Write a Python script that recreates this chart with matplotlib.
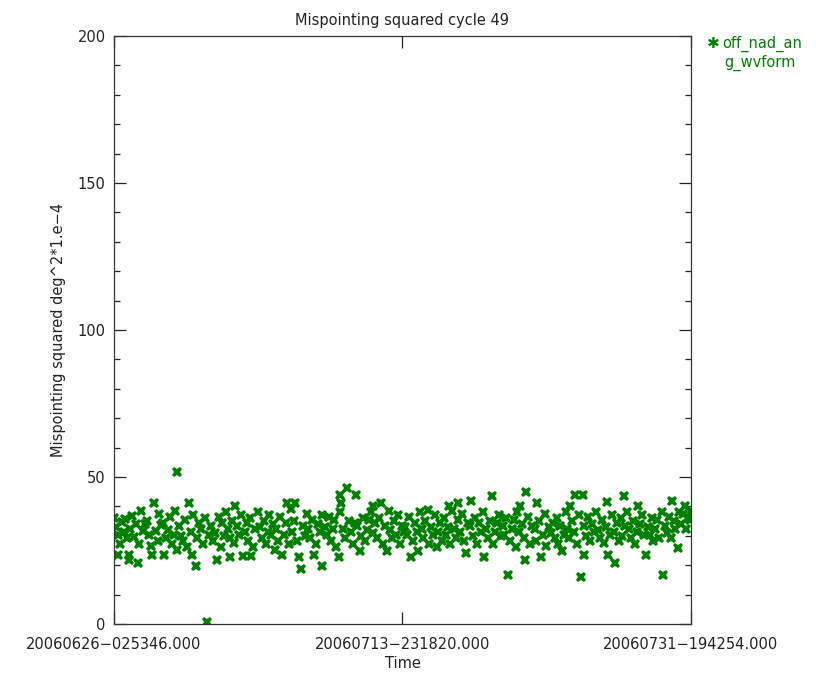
import matplotlib
matplotlib.use('Agg')
import matplotlib.pyplot as plt
from matplotlib.ticker import MultipleLocator

# time since first record (days) and mispointing squared (deg^2 * 1e-4)
t_days = [
    0.03, 0.12, 0.22, 0.25, 0.36, 0.48, 0.59, 0.71, 0.83, 0.93,
    0.95, 1.02, 1.14, 1.26, 1.38, 1.46, 1.55, 1.67, 1.79, 1.9,
    2.04, 2.15, 2.27, 2.35, 2.47, 2.58, 2.7, 2.81, 2.93,
    3.06, 3.1, 3.22, 3.35, 3.47, 3.58, 3.7, 3.8, 3.92,
    3.88, 4.02, 4.15, 4.28, 4.4, 4.52, 4.64, 4.77, 4.9,
    4.85, 5.05, 5.12, 5.24, 5.36, 5.48, 5.6, 5.73, 5.86,
    6.03, 6.15, 6.26, 6.35, 6.47, 6.59, 6.71, 6.83, 6.95,
    7.04, 7.16, 7.2, 7.33, 7.45, 7.5, 7.62, 7.75, 7.88,
    8.0, 8.08, 8.2, 8.32, 8.44, 8.5, 8.62, 8.74, 8.88,
    9.02, 9.14, 9.26, 9.38, 9.5, 9.62, 9.74, 9.86, 9.96,
    10.05, 10.17, 10.29, 10.4, 10.52, 10.64, 10.7, 10.82, 10.94,
    11.03, 11.15, 11.2, 11.32, 11.45, 11.6, 11.7, 11.82, 11.94,
    12.02, 12.14, 12.26, 12.4, 12.5, 12.62, 12.74, 12.86, 12.9,
    13.04, 13.16, 13.28, 13.4, 13.52, 13.64, 13.76, 13.9, 13.96,
    14.0, 14.05, 14.16, 14.28, 14.4, 14.52, 14.64, 14.76, 14.9,
    15.0, 15.06, 15.2, 15.3, 15.42, 15.54, 15.66, 15.78, 15.9,
    16.0, 16.04, 16.16, 16.28, 16.4, 16.5, 16.62, 16.76, 16.9,
    17.0, 17.08, 17.2, 17.32, 17.44, 17.56, 17.68, 17.8, 17.92,
    18.02, 18.14, 18.26, 18.4, 18.5, 18.62, 18.74, 18.8, 18.92,
    19.03, 19.15, 19.27, 19.4, 19.5, 19.62, 19.74, 19.86, 19.96,
    20.04, 20.16, 20.28, 20.4, 20.52, 20.64, 20.7, 20.82, 20.94,
    21.03, 21.15, 21.27, 21.3, 21.42, 21.54, 21.66, 21.8, 21.92,
    22.02, 22.1, 22.22, 22.34, 22.46, 22.58, 22.7, 22.82, 22.9,
    23.03, 23.15, 23.27, 23.4, 23.45, 23.56, 23.68, 23.8, 23.92,
    24.04, 24.16, 24.28, 24.4, 24.5, 24.62, 24.74, 24.86, 24.96,
    25.04, 25.1, 25.22, 25.34, 25.4, 25.5, 25.62, 25.74, 25.88,
    26.02, 26.14, 26.2, 26.32, 26.4, 26.52, 26.64, 26.76, 26.9,
    27.03, 27.15, 27.27, 27.39, 27.5, 27.62, 27.7, 27.82, 27.94,
    28.04, 28.16, 28.2, 28.32, 28.44, 28.5, 28.62, 28.76, 28.9,
    29.0, 29.06, 29.1, 29.22, 29.34, 29.46, 29.58, 29.7, 29.84,
    29.96, 30.08, 30.2, 30.32, 30.44, 30.5, 30.55, 30.68, 30.8,
    30.92, 31.0, 31.1, 31.22, 31.34, 31.46, 31.58, 31.6, 31.74,
    31.86, 31.98, 32.1, 32.22, 32.34, 32.4, 32.54, 32.66, 32.78,
    32.9, 33.02, 33.14, 33.26, 33.38, 33.5, 33.62, 33.74, 33.9,
    33.96, 34.08, 34.2, 34.32, 34.44, 34.5, 34.62, 34.74, 34.9,
    34.96, 35.08, 35.2, 35.3, 35.4, 35.52, 35.62, 35.68,
]
mis2 = [
    36.2, 33.1, 30.4, 23.5, 27.3, 34.6, 31.2, 35.8, 29.1, 23.6,
    21.8, 32.4, 36.7, 29.5, 34.1, 20.9, 27.2, 38.3, 31.6, 33.9,
    35.0, 30.3, 26.4, 23.5, 41.1, 31.7, 28.2, 37.4, 33.6,
    34.2, 23.4, 29.3, 32.1, 36.4, 27.1, 30.2, 38.5, 25.3,
    51.8, 33.3, 30.1, 28.4, 35.4, 26.2, 41.1, 31.3, 37.2,
    23.5, 19.7, 29.4, 34.3, 32.2, 27.3, 36.1, 0.8, 30.4,
    33.2, 28.3, 31.1, 21.8, 36.3, 26.2, 34.4, 30.1, 38.2,
    32.3, 29.2, 22.9, 35.1, 27.4, 40.0, 33.3, 30.2, 37.1,
    23.3, 31.2, 34.2, 28.4, 36.1, 23.3, 26.2, 32.3, 38.1,
    33.1, 29.4, 35.2, 27.1, 31.3, 37.2, 30.4, 34.1, 25.3,
    32.2, 28.1, 36.4, 23.5, 30.2, 34.3, 41.1, 27.2, 39.1,
    31.2, 35.1, 41.1, 28.3, 22.9, 18.6, 33.2, 30.1, 37.3,
    32.4, 29.1, 35.3, 23.5, 27.2, 34.1, 31.3, 37.2, 19.7,
    33.1, 30.2, 36.3, 28.1, 32.2, 35.4, 26.3, 22.9, 38.1,
    43.9, 41.3, 32.2, 29.4, 46.1, 35.1, 31.2, 27.3, 34.2,
    43.9, 33.3, 24.9, 30.1, 36.2, 28.4, 32.1, 35.3, 38.2,
    40.0, 31.1, 34.2, 29.3, 36.1, 41.1, 27.2, 33.3, 24.9,
    38.3, 32.1, 29.4, 35.2, 30.3, 37.1, 27.3, 33.2, 31.4,
    33.1, 30.2, 36.3, 22.9, 28.1, 34.3, 31.2, 24.9, 38.2,
    32.3, 29.1, 35.2, 38.8, 27.3, 33.1, 30.4, 37.2, 26.1,
    31.2, 34.3, 28.1, 36.2, 30.3, 33.1, 40.0, 27.2, 38.3,
    32.2, 29.1, 35.3, 41.1, 31.2, 37.4, 28.3, 24.0, 34.2,
    33.3, 42.0, 30.1, 36.2, 27.1, 34.3, 31.4, 38.1, 22.9,
    32.2, 29.3, 35.1, 43.5, 27.2, 31.3, 34.4, 37.2, 30.1,
    33.2, 30.3, 36.1, 16.7, 28.2, 32.4, 35.3, 26.1, 38.2,
    31.3, 40.0, 34.1, 29.2, 21.8, 45.0, 36.3, 27.1, 33.2,
    32.2, 28.3, 41.1, 35.1, 22.9, 30.2, 37.3, 26.4, 33.1,
    31.1, 34.3, 29.2, 36.1, 27.3, 33.4, 24.9, 30.2, 38.1,
    32.3, 29.1, 40.0, 35.2, 31.3, 43.9, 27.1, 37.2, 15.9,
    43.9, 33.2, 23.5, 30.1, 36.3, 28.2, 34.1, 31.4, 38.2,
    32.1, 29.2, 35.3, 27.4, 33.1, 41.6, 23.5, 30.3, 37.1,
    31.2, 20.9, 34.3, 28.1, 36.2, 30.1, 43.5, 33.3, 38.1,
    32.2, 29.3, 35.1, 27.2, 31.3, 40.0, 34.1, 37.2, 30.2,
    23.5, 33.1, 30.3, 36.2, 28.1, 32.3, 35.4, 29.2, 38.1,
    16.7, 33.3, 31.1, 36.4, 29.2, 42.0, 35.1, 32.2, 25.7,
    38.2, 34.1, 37.3, 40.0, 32.2, 36.1, 35.3, 38.4,
]

# IDL tick labels at start, middle and end of the cycle
span = 35.7008
xtick_pos = [0.0, span / 2, span]
xtick_lab = ['20060626\u2212025346.000', '20060713\u2212231820.000', '20060731\u2212194254.000']

green = '#008000'
fig = plt.figure(figsize=(8.16, 6.73), dpi=100)
ax = fig.add_axes([0.1397, 0.0728, 0.7071, 0.8737])
ax.plot(t_days, mis2, linestyle='none', marker='X', markersize=7.5,
        color=green, markeredgewidth=0)

ax.set_xlim(0, span)
ax.set_ylim(0, 200)
ax.set_xticks(xtick_pos)
ax.set_xticklabels(xtick_lab)
ax.yaxis.set_major_locator(MultipleLocator(50))
ax.yaxis.set_minor_locator(MultipleLocator(10))
ax.tick_params(which='both', direction='in', top=True, right=True,
               labelsize=10.5, colors='#222222', width=0.9)
ax.tick_params(which='major', length=8.5, pad=6)
ax.tick_params(which='minor', length=4.3)
ax.tick_params(axis='x', pad=9)
for s in ax.spines.values():
    s.set_color('#333333')
    s.set_linewidth(0.9)

ax.set_title('Mispointing squared cycle 49', fontsize=10.5, color='#222222', pad=8)
ax.set_ylabel('Mispointing squared deg^2*1.e\u22124', fontsize=10.5, color='#222222', labelpad=8)
ax.set_xlabel('Time', fontsize=10.5, color='#222222', labelpad=3)

fig.text(0.866, 0.935, '\u2731', color=green, fontsize=11, ha='left', va='center')
fig.text(0.885, 0.935, 'off_nad_an', color=green, fontsize=10.5, ha='left', va='center')
fig.text(0.888, 0.907, 'g_wvform', color=green, fontsize=10.5, ha='left', va='center')

plt.savefig('out.png', dpi=100)
plt.close()
